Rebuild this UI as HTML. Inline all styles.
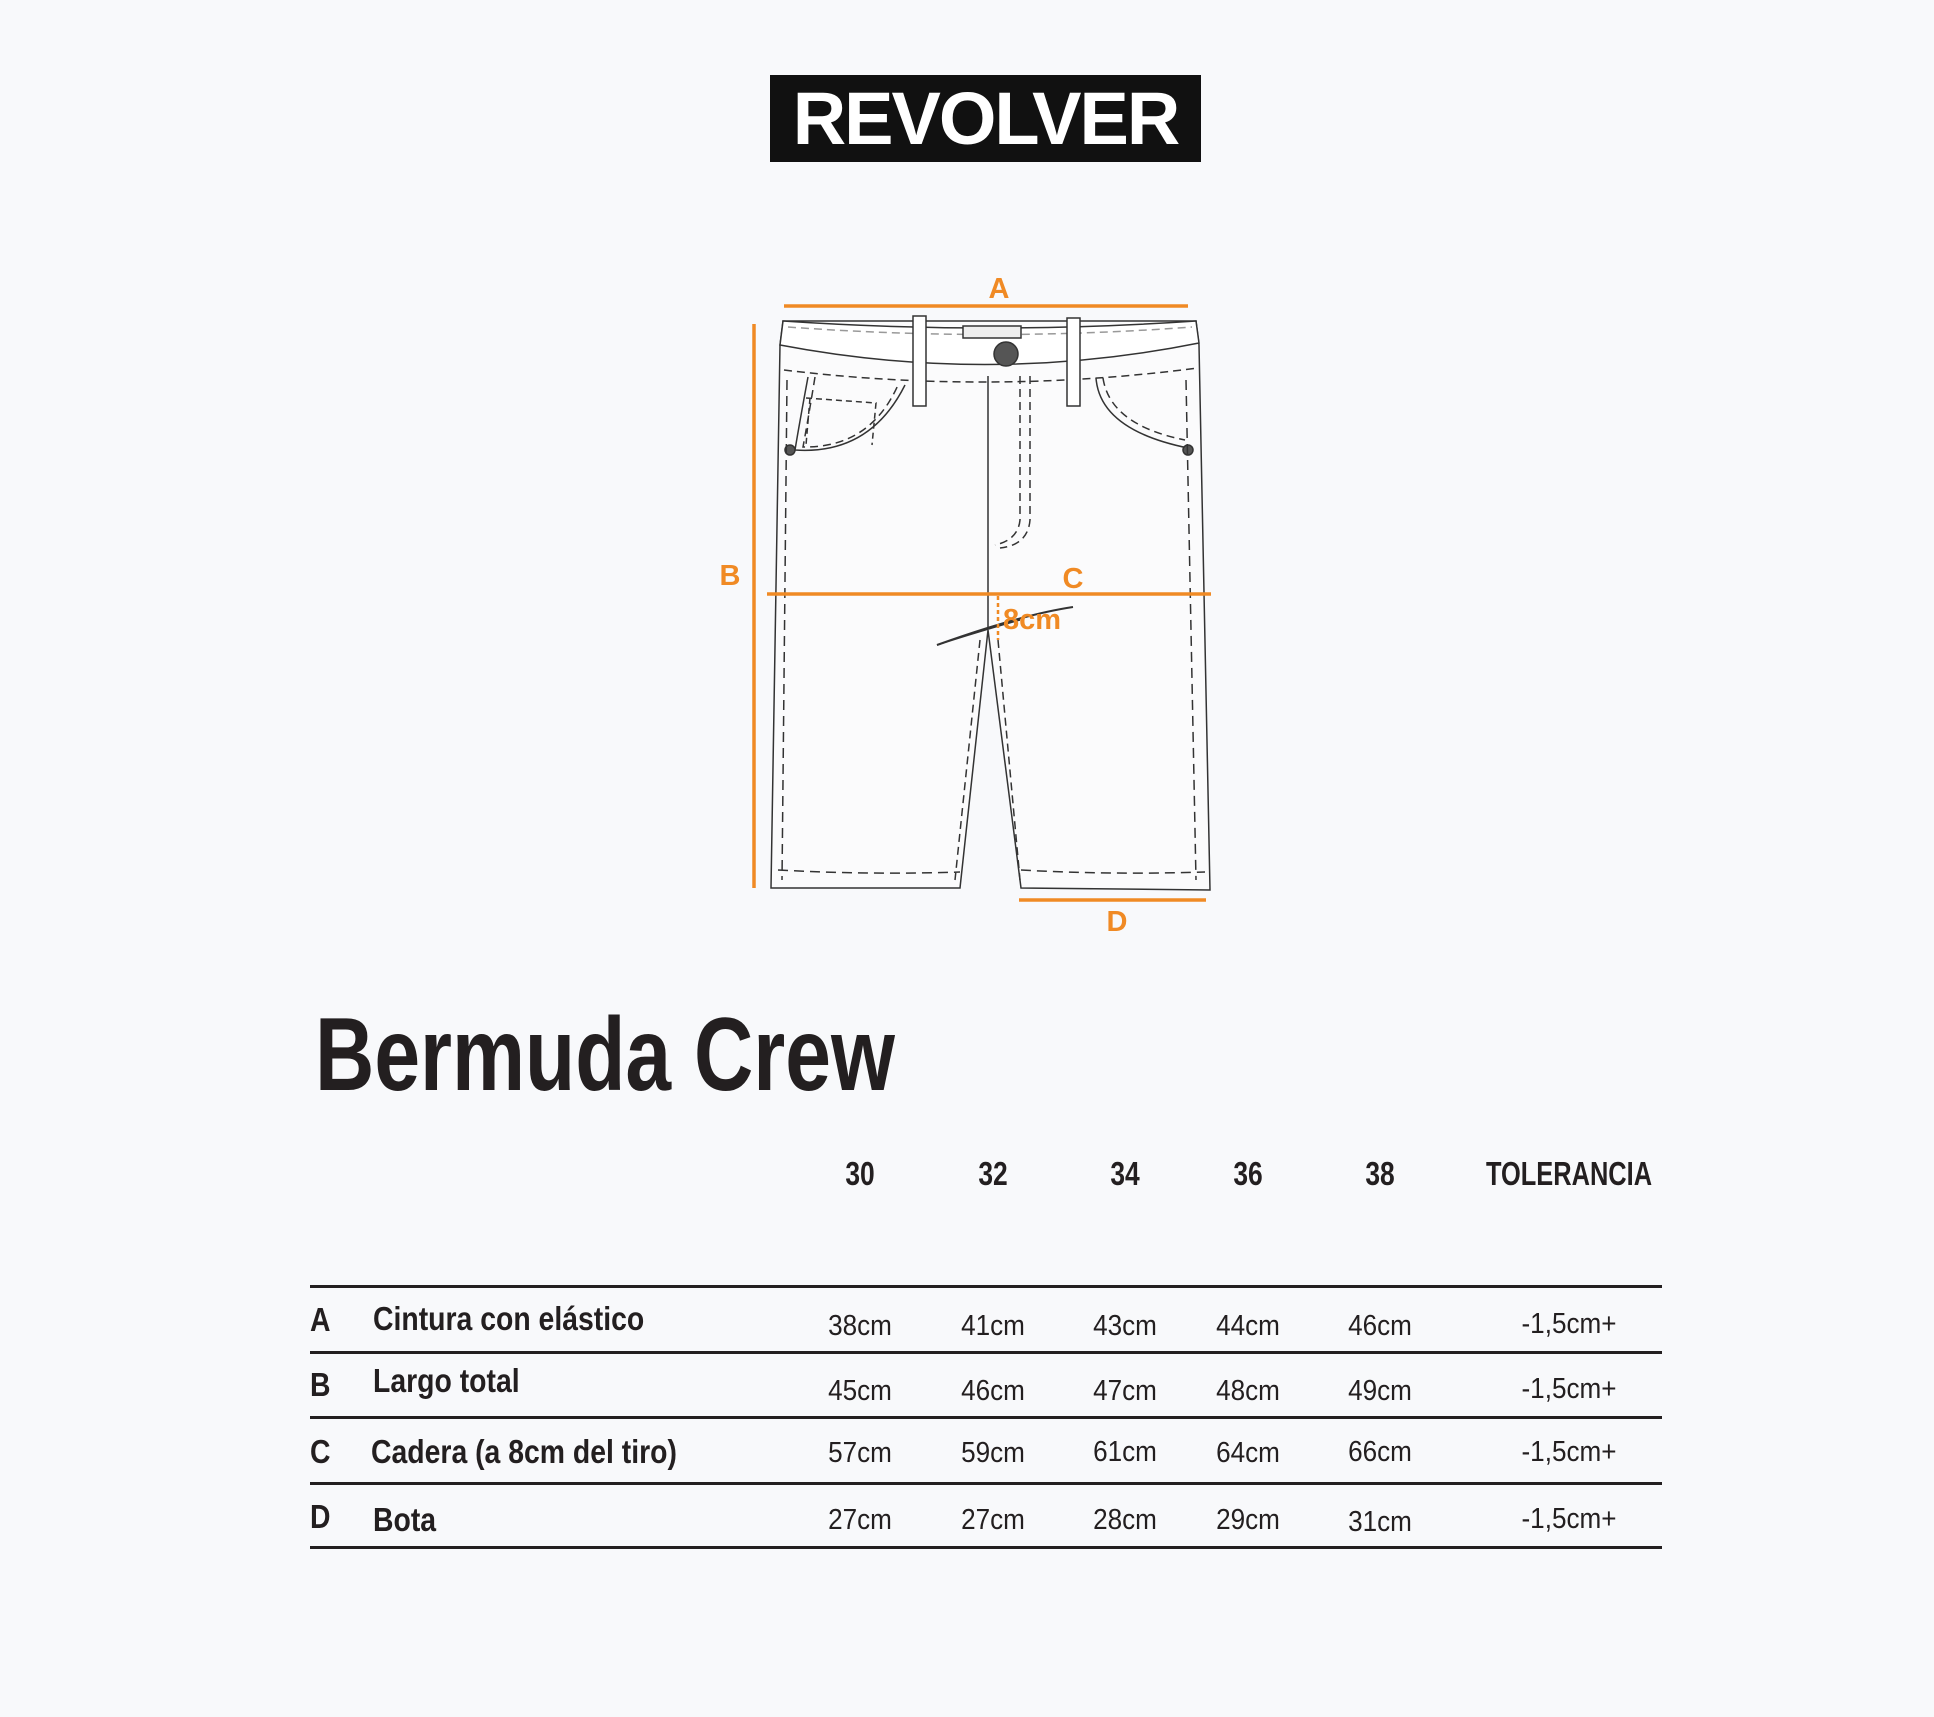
<!DOCTYPE html>
<html><head><meta charset="utf-8"><style>
html,body{margin:0;padding:0;background:#f8f9fb;}
body{width:1934px;height:1717px;position:relative;overflow:hidden;font-family:"Liberation Sans Narrow","Liberation Sans",sans-serif;color:#231f20;}
.t{position:absolute;white-space:nowrap;line-height:1;}
.b{font-weight:bold;}
.c{transform:translateX(-50%) scaleX(0.9);}
.h{transform:translateX(-50%) scaleX(0.8);}
.n{transform:scaleX(0.86);transform-origin:left;}
.hl{position:absolute;left:310px;width:1352px;height:3px;background:#231f20;}
</style></head><body>
<div style="position:absolute;left:770px;top:75px;width:431px;height:87px;background:#111;"></div>
<div class="t b" style="left:770px;top:82px;width:431px;text-align:center;font-family:'Liberation Sans',sans-serif;font-size:74px;color:#fff;letter-spacing:-2px;">REVOLVER</div>

<svg style="position:absolute;left:0;top:0" width="1934" height="1717">
<g fill="none" stroke="#333" stroke-width="1.5">
<path d="M783 321 L1196 321 L1199 345 L1210 890 L1021 888 L988 630 L960 888 L771 888 L780 345 Z" fill="#fbfbfc"/>
<path d="M783 321 Q990 335 1196 321 L1199 343 Q990 385 780 345 Z" fill="#fff"/>
<path d="M788 327 Q990 342 1192 327" stroke="#999" stroke-dasharray="8 5"/>
<path d="M784 370 Q990 395 1198 368" stroke-dasharray="8 5"/>
<line x1="988" y1="376" x2="988" y2="629"/>
<path d="M1020 376 L1020 520 Q1018 540 995 545" stroke-dasharray="8 5"/>
<path d="M1030 376 L1030 520 Q1028 545 1000 548" stroke-dasharray="8 5"/>
<rect x="913" y="316" width="13" height="90" fill="#fff"/>
<rect x="1067" y="318" width="13" height="88" fill="#fff"/>
<rect x="963" y="326" width="58" height="12" fill="#eee"/>
<circle cx="1006" cy="354" r="12" fill="#555"/>
<path d="M808 377 Q800 420 795 450 Q870 455 905 385" />
<path d="M815 377 Q808 420 803 447 Q870 448 898 385" stroke-dasharray="8 5"/>
<path d="M806 398 L876 403 L872 445 M810 398 L806 445" stroke-dasharray="6 4"/>
<path d="M1096 378 Q1100 430 1188 448" />
<path d="M1103 378 Q1110 425 1185 440" stroke-dasharray="8 5"/>
<circle cx="790" cy="450" r="5" fill="#555"/>
<circle cx="1188" cy="450" r="5" fill="#555"/>
<path d="M787 380 L782 880" stroke-dasharray="10 6"/>
<path d="M1186 380 L1196 880" stroke-dasharray="10 6"/>
<path d="M778 870 Q870 875 960 872" stroke-dasharray="10 6"/>
<path d="M1021 870 Q1110 875 1205 872" stroke-dasharray="10 6"/>
<path d="M980 640 L955 880 M998 640 L1020 880" stroke-dasharray="8 5"/>
<path d="M937 645 Q1020 615 1073 607" stroke-width="2"/>
<path d="M937 645 Q990 628 1020 620"/>
</g>
<g stroke="#f08a24" stroke-width="3.5">
<line x1="784" y1="306" x2="1188" y2="306"/>
<line x1="754" y1="324" x2="754" y2="888"/>
<line x1="767" y1="594" x2="1211" y2="594"/>
<line x1="1019" y1="900" x2="1206" y2="900"/>
<line x1="998" y1="596" x2="998" y2="640" stroke-width="2.5" stroke-dasharray="4 3"/>
</g>
<g fill="#f08a24" font-family="Liberation Sans,sans-serif" font-weight="bold" font-size="29" text-anchor="middle">
<text x="999" y="298">A</text>
<text x="730" y="585">B</text>
<text x="1073" y="588">C</text>
<text x="1117" y="931">D</text>
<text x="1032" y="629">8cm</text>
</g>
</svg>

<div class="t b" style="left:315px;top:1003px;font-size:104px;transform:scaleX(0.79);transform-origin:left;">Bermuda Crew</div>

<div class="t b h" style="left:860px;top:1157px;font-size:33px;">30</div>
<div class="t b h" style="left:993px;top:1157px;font-size:33px;">32</div>
<div class="t b h" style="left:1125px;top:1157px;font-size:33px;">34</div>
<div class="t b h" style="left:1248px;top:1157px;font-size:33px;">36</div>
<div class="t b h" style="left:1380px;top:1157px;font-size:33px;">38</div>
<div class="t b" style="left:1569px;top:1157px;font-size:33px;transform:translateX(-50%) scaleX(0.77);">TOLERANCIA</div>

<div class="hl" style="top:1285px"></div>
<div class="hl" style="top:1351px"></div>
<div class="hl" style="top:1416px"></div>
<div class="hl" style="top:1482px"></div>
<div class="hl" style="top:1546px"></div>

<div class="t b n" style="left:310px;top:1303px;font-size:33px;">A</div>
<div class="t b n" style="left:373px;top:1302px;font-size:33px;">Cintura con elástico</div>
<div class="t b n" style="left:310px;top:1368px;font-size:33px;">B</div>
<div class="t b n" style="left:373px;top:1364px;font-size:33px;">Largo total</div>
<div class="t b n" style="left:310px;top:1435px;font-size:33px;">C</div>
<div class="t b n" style="left:371px;top:1435px;font-size:33px;">Cadera (a 8cm del tiro)</div>
<div class="t b n" style="left:310px;top:1500px;font-size:33px;">D</div>
<div class="t b n" style="left:373px;top:1503px;font-size:33px;">Bota</div>

<div style="font-size:29px;">
<div class="t c" style="left:860px;top:1312px;">38cm</div><div class="t c" style="left:993px;top:1312px;">41cm</div><div class="t c" style="left:1125px;top:1312px;">43cm</div><div class="t c" style="left:1248px;top:1312px;">44cm</div><div class="t c" style="left:1380px;top:1312px;">46cm</div><div class="t c" style="left:1569px;top:1310px;">-1,5cm+</div>
<div class="t c" style="left:860px;top:1377px;">45cm</div><div class="t c" style="left:993px;top:1377px;">46cm</div><div class="t c" style="left:1125px;top:1377px;">47cm</div><div class="t c" style="left:1248px;top:1377px;">48cm</div><div class="t c" style="left:1380px;top:1377px;">49cm</div><div class="t c" style="left:1569px;top:1375px;">-1,5cm+</div>
<div class="t c" style="left:860px;top:1439px;">57cm</div><div class="t c" style="left:993px;top:1439px;">59cm</div><div class="t c" style="left:1125px;top:1438px;">61cm</div><div class="t c" style="left:1248px;top:1439px;">64cm</div><div class="t c" style="left:1380px;top:1438px;">66cm</div><div class="t c" style="left:1569px;top:1438px;">-1,5cm+</div>
<div class="t c" style="left:860px;top:1506px;">27cm</div><div class="t c" style="left:993px;top:1506px;">27cm</div><div class="t c" style="left:1125px;top:1506px;">28cm</div><div class="t c" style="left:1248px;top:1506px;">29cm</div><div class="t c" style="left:1380px;top:1508px;">31cm</div><div class="t c" style="left:1569px;top:1505px;">-1,5cm+</div>
</div>
</body></html>
